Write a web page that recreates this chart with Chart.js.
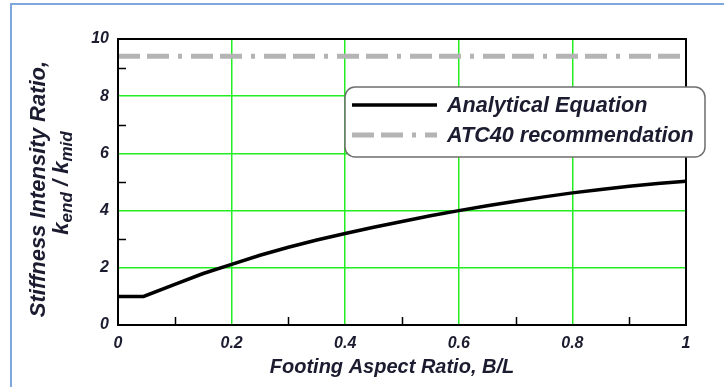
<!DOCTYPE html>
<html>
<head>
<meta charset="utf-8">
<script src="https://cdn.jsdelivr.net/npm/chart.js@4/dist/chart.umd.min.js"></script>
<style>
  html, body { margin: 0; padding: 0; background: #fff; }
  #wrap { width: 724px; height: 387px; position: relative; }
</style>
</head>
<body>
<div id="wrap"><canvas id="stiffnessChart" width="724" height="387"></canvas></div>
<script>
// aspect ratio B/L and stiffness ratio
const aspectRatio = [0, 0.045, 0.1, 0.15, 0.2, 0.25, 0.3, 0.35, 0.4, 0.45, 0.5, 0.55, 0.6, 0.65, 0.7, 0.75, 0.8, 0.85, 0.9, 0.95, 1.0];
const analyticalRatio = [1.0, 1.0, 1.42, 1.8, 2.12, 2.44, 2.72, 2.97, 3.2, 3.42, 3.62, 3.82, 4.0, 4.17, 4.33, 4.48, 4.62, 4.74, 4.85, 4.95, 5.03];
const atc40X = [0, 1];
const atc40Ratio = [9.4, 9.4];
const seriesLabels = ['Analytical Equation', 'ATC40 recommendation'];
const xMinorTicks = [0.1, 0.3, 0.5, 0.7, 0.9];
const yMinorTicks = [1, 3, 5, 7, 9];

const fontFamily = '"Liberation Sans", Arial, sans-serif';
const tickFont = { family: fontFamily, size: 16, style: 'italic', weight: 'bold' };
const textColor = '#1c1c30';

// draws the frame, minor ticks, titles and the boxed legend
const decorations = {
    id: 'decorations',
    beforeDraw(chart) {
        const ctx = chart.ctx;
        ctx.save();
        ctx.fillStyle = '#fff';
        ctx.fillRect(0, 0, chart.width, chart.height);
        // light blue frame of the screenshot
        ctx.strokeStyle = '#7ea8dc';
        ctx.lineWidth = 2;
        ctx.beginPath();
        ctx.moveTo(11, 387);
        ctx.lineTo(11, 4);
        ctx.lineTo(724, 4);
        ctx.stroke();
        ctx.restore();
    },
    afterDraw(chart) {
        const ctx = chart.ctx;
        const area = chart.chartArea;
        const xs = chart.scales.x, ys = chart.scales.y;
        ctx.save();

        // full box around the plot
        ctx.strokeStyle = '#000';
        ctx.lineWidth = 2;
        ctx.strokeRect(area.left, area.top, area.right - area.left, area.bottom - area.top);

        // inward minor ticks
        ctx.lineWidth = 1.5;
        ctx.beginPath();
        xMinorTicks.forEach(v => {
            const px = Math.round(xs.getPixelForValue(v)) + 0.5;
            ctx.moveTo(px, area.bottom);
            ctx.lineTo(px, area.bottom - 8);
        });
        yMinorTicks.forEach(v => {
            const py = Math.round(ys.getPixelForValue(v)) + 0.5;
            ctx.moveTo(area.left, py);
            ctx.lineTo(area.left + 8, py);
        });
        ctx.stroke();

        // x title
        ctx.fillStyle = textColor;
        ctx.font = 'italic bold 20px ' + fontFamily;
        ctx.textAlign = 'center';
        ctx.textBaseline = 'middle';
        ctx.fillText('Footing Aspect Ratio, B/L', 392, 367);

        // y title, two lines with subscripts
        const big = 'italic bold 22px ' + fontFamily;
        const small = 'italic bold 17px ' + fontFamily;
        ctx.save();
        ctx.translate(39, 189);
        ctx.rotate(-Math.PI / 2);
        ctx.font = big;
        ctx.fillText('Stiffness Intensity Ratio,', 0, 0);
        ctx.restore();

        ctx.save();
        ctx.translate(62, 183);
        ctx.rotate(-Math.PI / 2);
        const parts = [['k', big, 0], ['end', small, 5], [' / k', big, 0], ['mid', small, 5]];
        let total = 0;
        parts.forEach(p => { ctx.font = p[1]; total += ctx.measureText(p[0]).width; });
        let cx = -total / 2;
        ctx.textAlign = 'left';
        parts.forEach(p => {
            ctx.font = p[1];
            ctx.fillText(p[0], cx, p[2]);
            cx += ctx.measureText(p[0]).width;
        });
        ctx.restore();

        // legend box
        const bx = 345, by = 87, bw = 360, bh = 70, r = 10;
        ctx.beginPath();
        ctx.roundRect(bx, by, bw, bh, r);
        ctx.fillStyle = '#fff';
        ctx.fill();
        ctx.strokeStyle = '#6e6e6e';
        ctx.lineWidth = 1.5;
        ctx.stroke();

        const rows = [105, 135];
        const legendFont = 'italic bold 21.6px ' + fontFamily;
        chart.data.datasets.forEach((ds, i) => {
            ctx.save();
            ctx.strokeStyle = ds.borderColor;
            ctx.lineWidth = ds.borderWidth;
            ctx.setLineDash(ds.borderDash || []);
            ctx.beginPath();
            ctx.moveTo(352, rows[i]);
            ctx.lineTo(437, rows[i]);
            ctx.stroke();
            ctx.restore();
            ctx.fillStyle = textColor;
            ctx.font = legendFont;
            ctx.textAlign = 'left';
            ctx.textBaseline = 'middle';
            ctx.fillText(ds.label, 447, rows[i] + 1);
        });
        ctx.restore();
    }
};

const ctx = document.getElementById('stiffnessChart').getContext('2d');
new Chart(ctx, {
    type: 'line',
    data: {
        datasets: [{
            label: seriesLabels[0],
            data: aspectRatio.map((x, i) => ({ x: x, y: analyticalRatio[i] })),
            borderColor: '#000',
            borderWidth: 3.5,
            pointRadius: 0,
            tension: 0,
            fill: false
        }, {
            label: seriesLabels[1],
            data: atc40X.map((x, i) => ({ x: x, y: atc40Ratio[i] })),
            borderColor: '#b4b4b4',
            borderWidth: 5,
            borderDash: [22, 7, 22, 9, 4, 9],
            pointRadius: 0,
            fill: false
        }]
    },
    options: {
        responsive: false,
        animation: false,
        layout: { padding: { left: 0, top: 39, right: 38, bottom: 0 } },
        plugins: {
            legend: { display: false },
            tooltip: { enabled: false }
        },
        scales: {
            x: {
                type: 'linear',
                min: 0,
                max: 1,
                afterFit: s => { s.height = 62; },
                ticks: {
                    stepSize: 0.2,
                    padding: 9,
                    color: textColor,
                    font: tickFont,
                    callback: v => String(Math.round(v * 10) / 10)
                },
                grid: { color: '#22ee22', lineWidth: 1.5, drawTicks: false },
                border: { color: '#000', width: 2 }
            },
            y: {
                min: 0,
                max: 10,
                afterFit: s => { s.width = 118; },
                ticks: {
                    stepSize: 2,
                    padding: 9,
                    color: textColor,
                    font: tickFont
                },
                grid: { color: '#22ee22', lineWidth: 1.5, drawTicks: false },
                border: { color: '#000', width: 2 }
            }
        }
    },
    plugins: [decorations]
});
</script>
</body>
</html>
